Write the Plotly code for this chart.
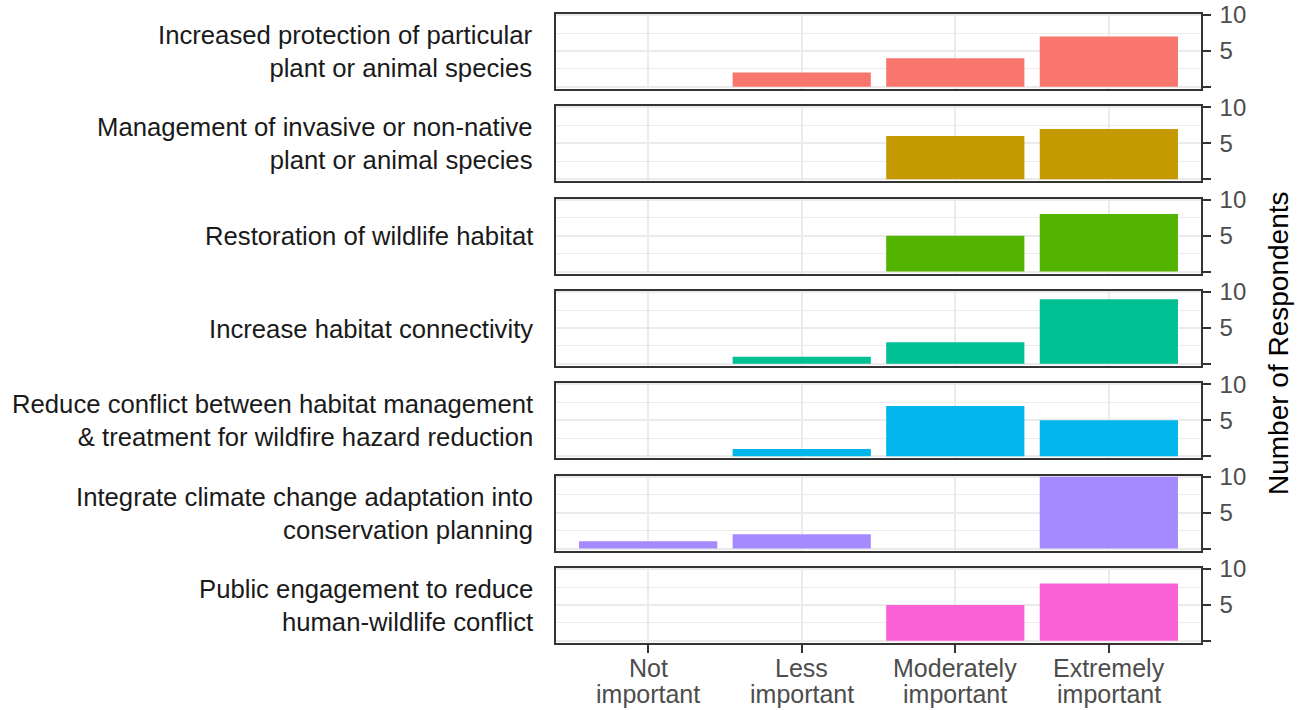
import plotly.graph_objects as go

categories = ["Not important", "Less important", "Moderately important", "Extremely important"]
cat_line1 = ["Not", "Less", "Moderately", "Extremely"]
cat_line2 = ["important", "important", "important", "important"]

facets = [
    "Increased protection of particular<br>plant or animal species",
    "Management of invasive or non-native<br>plant or animal species",
    "Restoration of wildlife habitat",
    "Increase habitat connectivity",
    "Reduce conflict between habitat management<br>& treatment for wildfire hazard reduction",
    "Integrate climate change adaptation into<br>conservation planning",
    "Public engagement to reduce<br>human-wildlife conflict",
]

protection = [0, 2, 4, 7]
invasive = [0, 0, 6, 7]
restoration = [0, 0, 5, 8]
connectivity = [0, 1, 3, 9]
wildfire = [0, 1, 7, 5]
climate = [1, 2, 0, 10]
engagement = [0, 0, 5, 8]
series = [protection, invasive, restoration, connectivity, wildfire, climate, engagement]

colors = ["#F8766D", "#C49A00", "#53B400", "#00C094", "#00B6EB", "#A58AFF", "#FB61D7"]

W, H = 1309, 710
left, right = 556, 1201
top, bottom = 14, 643
panel_h = 75
n = len(facets)
step = (bottom - top - panel_h) / (n - 1)

FONT = "Liberation Sans, Arial, sans-serif"
fig = go.Figure()
layout = dict(
    width=W, height=H,
    margin=dict(l=left, r=W - right, t=top, b=H - bottom, autoexpand=False),
    plot_bgcolor="white", paper_bgcolor="white",
    showlegend=False, bargap=0.1,
    font=dict(family=FONT, color="#4D4D4D", size=24),
)
annotations = []
for i in range(n):
    idx = "" if i == 0 else str(i + 1)
    ptop = top + i * step
    pbot = ptop + panel_h
    d0 = (bottom - pbot) / (bottom - top)
    d1 = (bottom - ptop) / (bottom - top)
    vals = series[i]
    xs = [c for c, v in zip(categories, vals) if v > 0]
    ys = [v for v in vals if v > 0]
    fig.add_trace(go.Bar(x=xs, y=ys, marker=dict(color=colors[i], line=dict(width=0)),
                         width=0.9, xaxis="x" + idx, yaxis="y" + idx))
    is_last = i == n - 1
    layout["xaxis" + idx] = dict(
        domain=[0, 1], anchor="y" + idx, type="category",
        categoryorder="array", categoryarray=categories,
        range=[-0.6, 3.6], showgrid=True, gridcolor="#EBEBEB", gridwidth=2,
        showline=True, linecolor="#333333", linewidth=1.6, mirror=True,
        ticks="outside" if is_last else "", ticklen=8, tickcolor="#333333", tickwidth=1.6,
        showticklabels=False, automargin=False,
        zeroline=False, fixedrange=True,
    )
    if i > 0:
        layout["xaxis" + idx]["matches"] = "x"
    layout["yaxis" + idx] = dict(
        domain=[d0, d1], anchor="x" + idx, side="right",
        range=[-0.3, 10.15], tickvals=[0, 5, 10], ticktext=["", "5", "10"],
        ticks="outside", ticklen=8, tickcolor="#333333", tickwidth=1.6,
        showgrid=True, gridcolor="#EBEBEB", gridwidth=2,
        minor=dict(tickvals=[2.5, 7.5], showgrid=True, gridcolor="#EBEBEB", gridwidth=1.1, ticks=""),
        showline=True, linecolor="#333333", linewidth=1.6, mirror=True,
        tickfont=dict(size=24, color="#4D4D4D", family=FONT),
        ticklabelstandoff=4, automargin=False,
        zeroline=False, fixedrange=True,
    )
    annotations.append(dict(
        text=facets[i], xref="paper", yref="paper",
        x=(535 - left) / (right - left), y=(d0 + d1) / 2,
        xanchor="right", yanchor="middle", align="right", showarrow=False,
        font=dict(size=25.7, color="#1A1A1A", family=FONT),
    ))

# x-axis category labels (two lines, tighter line spacing)
for c, l1, l2 in zip(categories, cat_line1, cat_line2):
    for txt, yy in ((l1, 668), (l2, 694)):
        annotations.append(dict(
            text=txt, xref="x7", yref="paper", x=c,
            y=(bottom - yy) / (bottom - top),
            xanchor="center", yanchor="middle", showarrow=False,
            font=dict(size=25, color="#4D4D4D", family=FONT),
        ))

annotations.append(dict(
    text="Number of Respondents", xref="paper", yref="paper",
    x=(1278 - left) / (right - left), y=(bottom - 343) / (bottom - top),
    xanchor="center", yanchor="middle", textangle=-90, showarrow=False,
    font=dict(size=28, color="#000000", family=FONT),
))
layout["annotations"] = annotations
fig.update_layout(**layout)
fig.write_html("out.html", config={"displayModeBar": False},
               post_script="document.body.style.margin='0px';")
